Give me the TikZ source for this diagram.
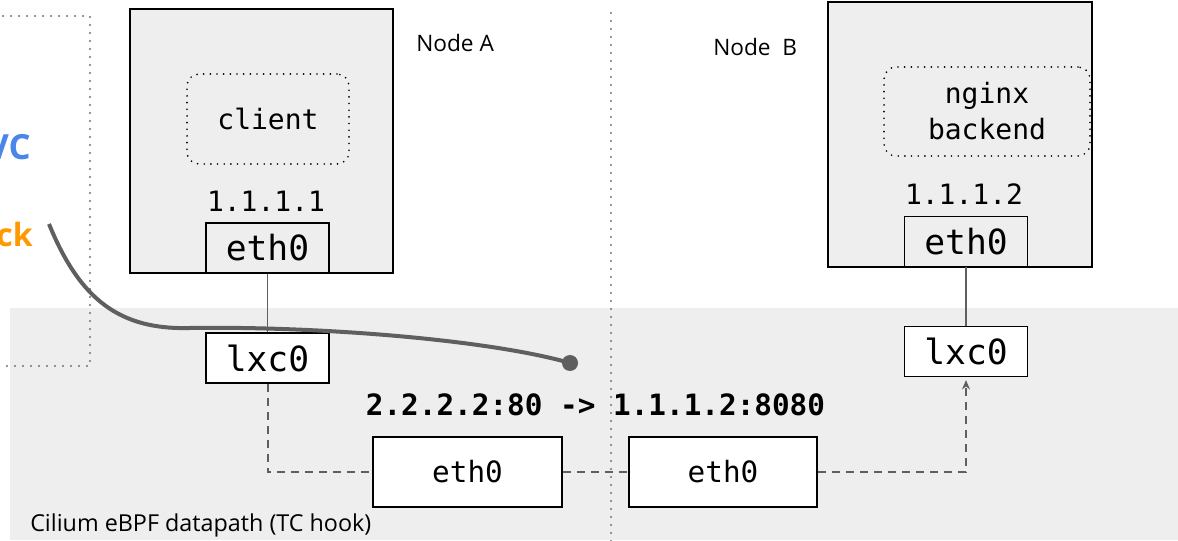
\documentclass[tikz,border=0pt]{standalone}
\usepackage{fontspec}
\setmainfont{Open Sans}
\setmonofont{DejaVu Sans Mono}
\usetikzlibrary{arrows.meta}

\definecolor{bandgray}{HTML}{EEEEEE}
\definecolor{wiregray}{HTML}{5F5F5F}
\definecolor{svcblue}{HTML}{4A86E8}
\definecolor{stackorange}{HTML}{FF9900}

\tikzset{
  hostbox/.style={draw, line width=1.5pt, fill=bandgray, inner sep=0pt},
  podbox/.style={draw, line width=1.4pt, rounded corners=9pt, dash pattern=on 0pt off 5pt, line cap=round,
    inner sep=0pt, align=center, font=\ttfamily\fontsize{21}{27}\selectfont},
  ifbox/.style={draw, line width=1.4pt, fill=white, inner sep=0pt, minimum width=92.25pt, minimum height=37.5pt,
    font=\ttfamily\fontsize{26}{28}\selectfont},
  wanbox/.style={draw, line width=1.4pt, fill=white, inner sep=0pt, minimum width=141.5pt, minimum height=52.5pt,
    font=\ttfamily\fontsize{22}{24}\selectfont},
  iplabel/.style={inner sep=0pt, font=\ttfamily\fontsize{21}{24}\selectfont},
  hostlabel/.style={inner sep=0pt, anchor=base west, font=\fontsize{17}{20}\selectfont},
  sepline/.style={draw=black!55, line width=1.6pt, dash pattern=on 0pt off 6pt, line cap=round},
  veth/.style={draw=wiregray, line width=1.2pt},
  dpath/.style={draw=wiregray, line width=1.5pt, dash pattern=on 6pt off 4.5pt},
}

\begin{document}
\begin{tikzpicture}[x=0.75pt, y=-0.75pt]
  \useasboundingbox (0,0) rectangle (1178,541);

  % datapath band
  \fill[bandgray] (10,308) rectangle (1178,540);
  \node[hostlabel, font=\fontsize{17.5}{20}\selectfont] (tchook) at (30,531) {Cilium eBPF datapath (TC hook)};

  % left box, mostly off page
  \coordinate (lb1) at (-5,16);
  \coordinate (lb2) at (90,16);
  \coordinate (lb3) at (90,366);
  \coordinate (lb4) at (-5,366);
  \draw[sepline] (lb1) -- (lb2) -- (lb3) -- (lb4);
  \node[inner sep=0pt, anchor=base east, text=svcblue, font=\bfseries\fontsize{26}{28}\selectfont] (svc) at (31,160) {VC};
  \node[inner sep=0pt, anchor=base east, text=stackorange, font=\bfseries\fontsize{24}{28}\selectfont] (stack) at (33,247) {ck};

  % split between the nodes
  \coordinate (sp1) at (611,13);
  \coordinate (sp2) at (611,541);
  \draw[sepline] (sp1) -- (sp2);

  % Node A
  \node[hostbox, minimum width=197.25pt, minimum height=198pt] (hostA) at (261.5,141) {};
  \node[hostlabel] (labelA) at (416,52) {Node A};
  \node[podbox, minimum width=121.5pt, minimum height=67.5pt] (client) at (268,119) {client};
  \node[iplabel] (ipA) at (266,201) {1.1.1.1};
  \node[ifbox, fill=bandgray] (ethA) at (267.5,248) {eth0};
  \node[ifbox] (lxcA) at (267.5,358) {lxc0};

  % Node B
  \node[hostbox, minimum width=198pt, minimum height=198.75pt] (hostB) at (960,134.5) {};
  \node[hostlabel] (labelB) at (713,56) {Node\ \ B};
  \node[podbox, minimum width=154.5pt, minimum height=66.75pt] (nginx) at (987,111.5) {nginx\\backend};
  \node[iplabel] (ipB) at (964,194) {1.1.1.2};
  \node[ifbox, fill=bandgray] (ethB) at (966,241.5) {eth0};
  \node[ifbox] (lxcB) at (966,351.5) {lxc0};

  % wire side
  \node[wanbox] (wanA) at (467.5,472) {eth0};
  \node[wanbox] (wanB) at (723,472) {eth0};
  \node[inner sep=0pt, font=\ttfamily\bfseries\fontsize{22}{24}\selectfont] (dnat) at (595.5,405) {2.2.2.2:80 -> 1.1.1.2:8080};

  \draw[veth] (ethA) -- (lxcA);
  \draw[veth] (ethB) -- (lxcB);
  \draw[dpath] (lxcA.south) |- (wanA.west);
  \draw[dpath] (wanA.east) -- (wanB.west);
  \draw[dpath, -{Stealth[length=7pt, width=6pt]}] (wanB.east) -| ([yshift=-2pt]lxcB.south);

  % socket hook
  \coordinate (hookstart) at (49,224);
  \coordinate (hookend) at (570,363);
  \draw[wiregray, line width=3pt] (hookstart) .. controls (80,300) and (120,330) .. (190,328)
    .. controls (320,326) and (490,340) .. (hookend);
  \fill[wiregray] (hookend) circle (6pt);
\end{tikzpicture}
\end{document}
